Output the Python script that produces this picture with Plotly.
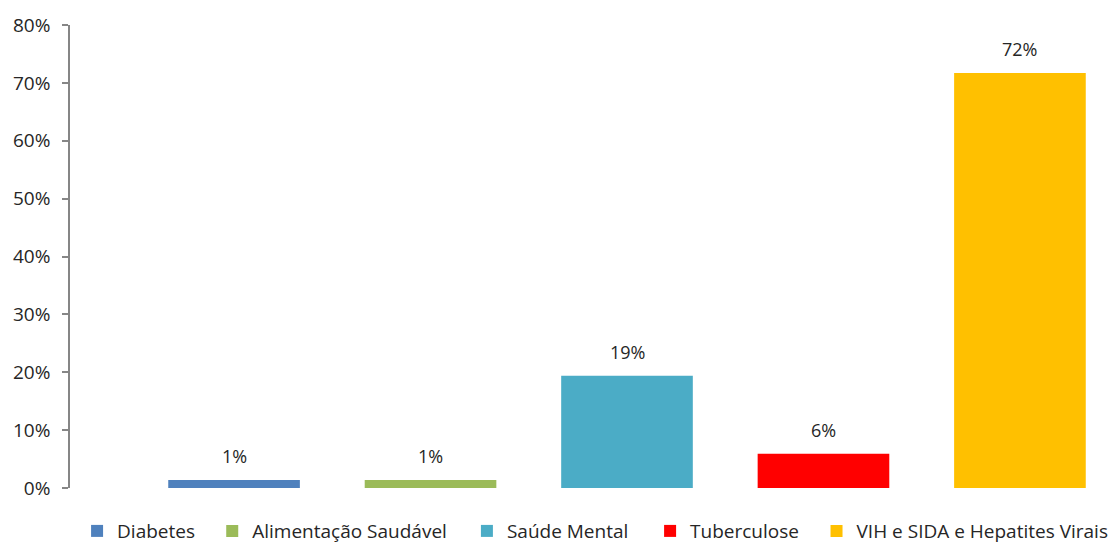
import plotly.graph_objects as go

# Share of cases by health area
categories = ["Diabetes", "Alimentação Saudável", "Saúde Mental", "Tuberculose", "VIH e SIDA e Hepatites Virais"]
shares = [0.014, 0.014, 0.194, 0.059, 0.717]
colors = ["#4F81BD", "#9BBB59", "#4BACC6", "#FF0000", "#FFC000"]

# left edge of each legend entry, as a fraction of the figure width
legend_x = [0.069, 0.190, 0.418, 0.582, 0.731]

font_family = "'Open Sans', Lato, sans-serif"
W, H = 1117, 543

fig = go.Figure()
legend_layout = {}
for i, (name, val, col) in enumerate(zip(categories, shares, colors)):
    lg = "legend" if i == 0 else f"legend{i + 1}"
    fig.add_trace(go.Bar(
        x=[name], y=[val], name=name, legend=lg,
        marker=dict(color=col, line=dict(width=0)),
        width=0.67,
    ))
    # value label above each bar
    fig.add_annotation(
        x=name, y=val, text=f"{val:.0%}", showarrow=False,
        yanchor="bottom", yshift=10,
        font=dict(size=18, color="#262626", family=font_family),
    )
    legend_layout[lg] = dict(
        orientation="h", xref="container", yref="container",
        x=legend_x[i], xanchor="left", y=0.022, yanchor="middle",
        font=dict(size=19, color="#262626", family=font_family),
        itemwidth=30, bgcolor="rgba(0,0,0,0)",
    )

fig.update_layout(
    width=W, height=H,
    margin=dict(l=70, r=0, t=25, b=55),
    paper_bgcolor="white", plot_bgcolor="white",
    barmode="overlay",
    font=dict(family=font_family, size=18, color="#262626"),
    showlegend=True,
    xaxis=dict(type="category", categoryorder="array", categoryarray=categories,
               range=[-0.835, 4.494], showticklabels=False, showgrid=False,
               showline=False, zeroline=False, ticks=""),
    yaxis=dict(range=[0, 0.8], dtick=0.1, tickformat=".0%", showgrid=False,
               zeroline=False, showline=True, linecolor="#868686", linewidth=1.5,
               ticks="outside", ticklen=6, tickcolor="#868686", tickwidth=1.5,
               tickfont=dict(size=19, color="#262626"), ticklabelstandoff=8),
    **legend_layout,
)

fig.write_html("out.html")
